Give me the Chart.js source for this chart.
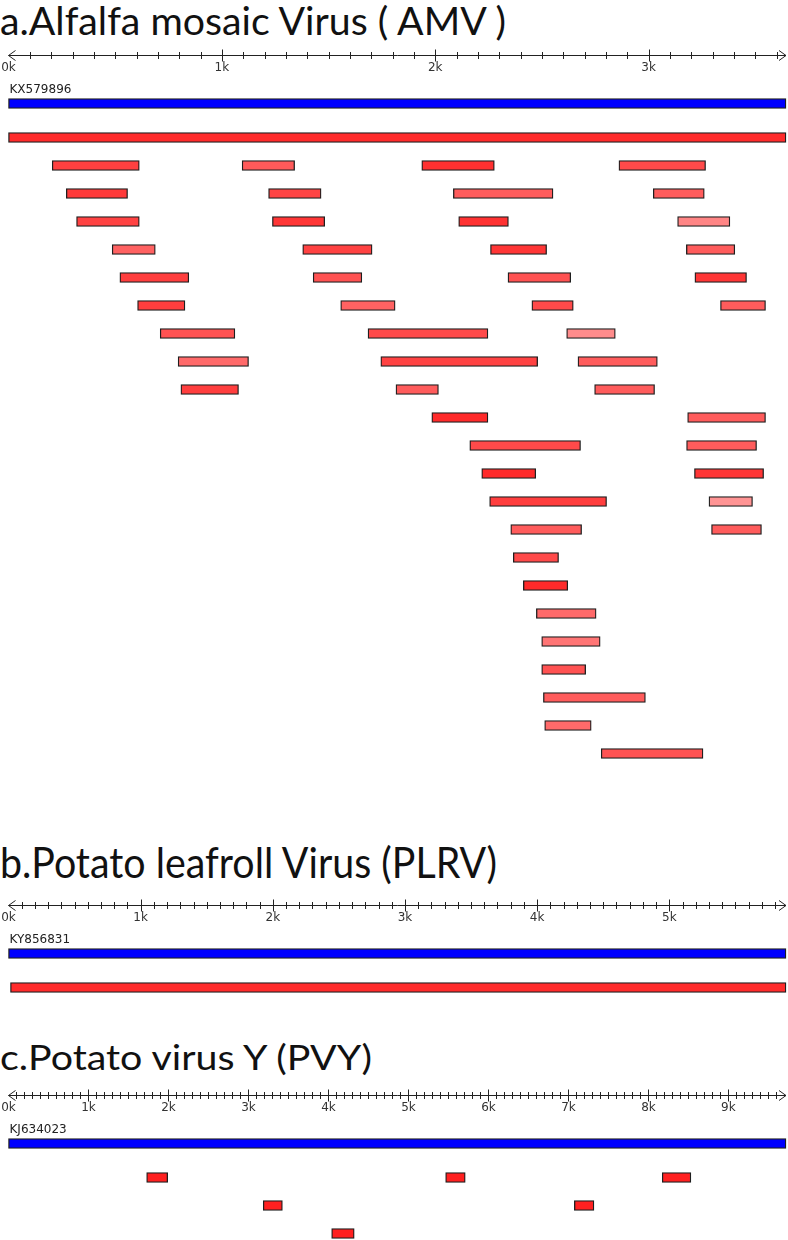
<!DOCTYPE html>
<html>
<head>
<meta charset="utf-8">
<script src="https://cdn.jsdelivr.net/npm/chart.js@4.4.1/dist/chart.umd.min.js"></script>
<style>
body { margin:0; background:#fff; width:788px; height:1240px; position:relative; overflow:hidden; }
.ttl { position:absolute; left:0; font-family:Lato, sans-serif; color:#111; white-space:nowrap; line-height:1; transform-origin:0 0; }
canvas { position:absolute; left:0; }
</style>
</head>
<body>
<div class="ttl" id="t1" style="top:1px;font-size:39px" data-w="506">a.Alfalfa mosaic Virus ( AMV )</div>
<div class="ttl" id="t2" style="top:841px;font-size:42px" data-w="497">b.Potato leafroll Virus (PLRV)</div>
<div class="ttl" id="t3" style="top:1039px;font-size:35px" data-w="372">c.Potato virus Y (PVY)</div>
<canvas id="amv" width="788" height="730" style="top:40px"></canvas>
<canvas id="plrv" width="788" height="110" style="top:890px"></canvas>
<canvas id="pvy" width="788" height="160" style="top:1080px"></canvas>

<script>
// genome lengths (bp) and accession of the reference bar
const amvLength = 3644, amvAcc = "KX579896";
const plrvLength = 5883, plrvAcc = "KY856831";
const pvyLength = 9720, pvyAcc = "KJ634023";

// AMV hits: lane (row under the reference), start, end in bp
const amvLane = [0,
  1,1,1,1, 2,2,2,2, 3,3,3,3, 4,4,4,4, 5,5,5,5, 6,6,6,6,
  7,7,7, 8,8,8, 9,9,9, 10,10, 11,11, 12,12, 13,13, 14,14,
  15, 16, 17, 18, 19, 20, 21, 22];
const amvStart = [0,
  205,1095,1937,2861, 271,1219,2085,3022, 319,1237,2110,3136, 486,1379,2259,3177,
  522,1428,2341,3217, 605,1557,2453,3337,
  711,1685,2616, 795,1745,2669, 808,1816,2747, 1984,3183, 2162,3178, 2218,3215,
  2255,3283, 2354,3295,
  2366, 2413, 2474, 2499, 2499, 2507, 2513, 2778];
const amvEnd = [3644,
  613,1341,2277,3267, 558,1465,2552,3261, 613,1482,2343,3381, 688,1704,2522,3404,
  845,1656,2635,3459, 827,1812,2647,3548,
  1061,2247,2844, 1125,2480,3041, 1078,2015,3028, 2247,3548, 2681,3506, 2471,3539,
  2803,3487, 2686,3529,
  2578, 2621, 2754, 2773, 2705, 2985, 2731, 3255];

// PLRV: one hit over the whole genome
const plrvLane = [0];
const plrvStart = [15];
const plrvEnd = [5883];

// PVY hits
const pvyLane = [0,0,0, 1,1, 2];
const pvyStart = [1727,5465,8173, 3185,7074, 4040];
const pvyEnd = [1990,5710,8531, 3424,7319, 4322];

// fill shades of the hits (style only)
const amvShade = ['#ff2b2b',
  '#ff4040','#ff5a5a','#ff3030','#ff4a4a', '#ff3a3a','#ff4444','#ff5c5c','#ff5c5c',
  '#ff4242','#ff3636','#ff3232','#ff8585', '#ff6262','#ff4242','#ff3636','#ff5c5c',
  '#ff3e3e','#ff5252','#ff5252','#ff3636', '#ff3e3e','#ff6262','#ff4a4a','#ff5c5c',
  '#ff5252','#ff4a4a','#ff8c8c', '#ff6a6a','#ff4242','#ff5c5c', '#ff3e3e','#ff5c5c','#ff5c5c',
  '#ff2a2a','#ff5c5c', '#ff4a4a','#ff5c5c', '#ff2a2a','#ff3636', '#ff3e3e','#ff9494',
  '#ff5c5c','#ff5c5c', '#ff4a4a','#ff2a2a','#ff6a6a','#ff7575','#ff5252','#ff5c5c','#ff6a6a','#ff5252'];

const LANE_PX = 28, PAD_TOP = 83.5, REF_SHIFT = 6 / LANE_PX;

const rulerPlugin = {
  id: 'ruler',
  afterDatasetsDraw(chart, args, opts) {
    const ctx = chart.ctx, x = chart.scales.x, y = 15;
    const x0 = x.getPixelForValue(0), x1 = x.getPixelForValue(opts.len);
    ctx.save();
    ctx.strokeStyle = '#222';
    ctx.lineWidth = 1;
    ctx.beginPath();
    ctx.moveTo(x0, y + 0.5); ctx.lineTo(x1, y + 0.5);
    ctx.moveTo(x0 + 7, y - 4.5); ctx.lineTo(x0, y + 0.5); ctx.lineTo(x0 + 7, y + 5.5);
    ctx.moveTo(x1 - 7, y - 4.5); ctx.lineTo(x1, y + 0.5); ctx.lineTo(x1 - 7, y + 5.5);
    for (let v = 100; v < opts.len - 30; v += 100) {
      const px = Math.round(x.getPixelForValue(v)) + 0.5;
      const h = v % 1000 === 0 ? 6 : 3.5;
      ctx.moveTo(px, y + 0.5 - h); ctx.lineTo(px, y + 0.5 + h);
    }
    ctx.stroke();
    ctx.fillStyle = '#333';
    ctx.font = '12px "DejaVu Sans"';
    ctx.textAlign = 'center';
    ctx.textBaseline = 'middle';
    for (let k = 0; k * 1000 <= opts.len; k++) {
      ctx.fillText(k + 'k', x.getPixelForValue(k * 1000), y + 13);
    }
    ctx.textAlign = 'left';
    ctx.fillStyle = '#222';
    ctx.fillText(opts.acc, x0 + 1, 50);
    ctx.restore();
  }
};

function drawPanel(id, len, acc, lanes, starts, ends, shades) {
  const cv = document.getElementById(id);
  const yMax = -0.5 + (cv.height - PAD_TOP) / LANE_PX;
  const hits = lanes.map((l, i) => ({ x: [starts[i], ends[i]], y: l }));
  const bar = { barThickness: 10, borderWidth: 1.3, borderColor: '#1e1e1e',
                borderSkipped: false, grouped: false, clip: false };
  new Chart(cv, {
    type: 'bar',
    data: {
      datasets: [
        Object.assign({ data: [{ x: [0, len], y: -1 }], yAxisID: 'yr', backgroundColor: '#0000ff' }, bar),
        Object.assign({ data: hits, yAxisID: 'y', backgroundColor: shades }, bar)
      ]
    },
    options: {
      indexAxis: 'y',
      responsive: false,
      animation: false,
      events: [],
      layout: { padding: { top: PAD_TOP, left: 8.5, right: 2, bottom: 0 } },
      scales: {
        x: { type: 'linear', min: 0, max: len, bounds: 'data', offset: false, display: false },
        y: { type: 'linear', reverse: true, min: -0.5, max: yMax, bounds: 'data', offset: false, display: false },
        yr: { type: 'linear', reverse: true, min: -0.5 + REF_SHIFT, max: yMax + REF_SHIFT, bounds: 'data', offset: false, display: false }
      },
      plugins: { legend: { display: false }, tooltip: { enabled: false }, ruler: { len: len, acc: acc } }
    },
    plugins: [rulerPlugin]
  });
}

drawPanel('amv', amvLength, amvAcc, amvLane, amvStart, amvEnd, amvShade);
drawPanel('plrv', plrvLength, plrvAcc, plrvLane, plrvStart, plrvEnd, '#ff2b2b');
drawPanel('pvy', pvyLength, pvyAcc, pvyLane, pvyStart, pvyEnd, '#ff2020');

// stretch the titles to the width they have in the figure
document.querySelectorAll('.ttl').forEach(el => {
  const w = el.getBoundingClientRect().width;
  el.style.transform = 'scaleX(' + (el.dataset.w / w) + ')';
});
</script>
</body>
</html>
